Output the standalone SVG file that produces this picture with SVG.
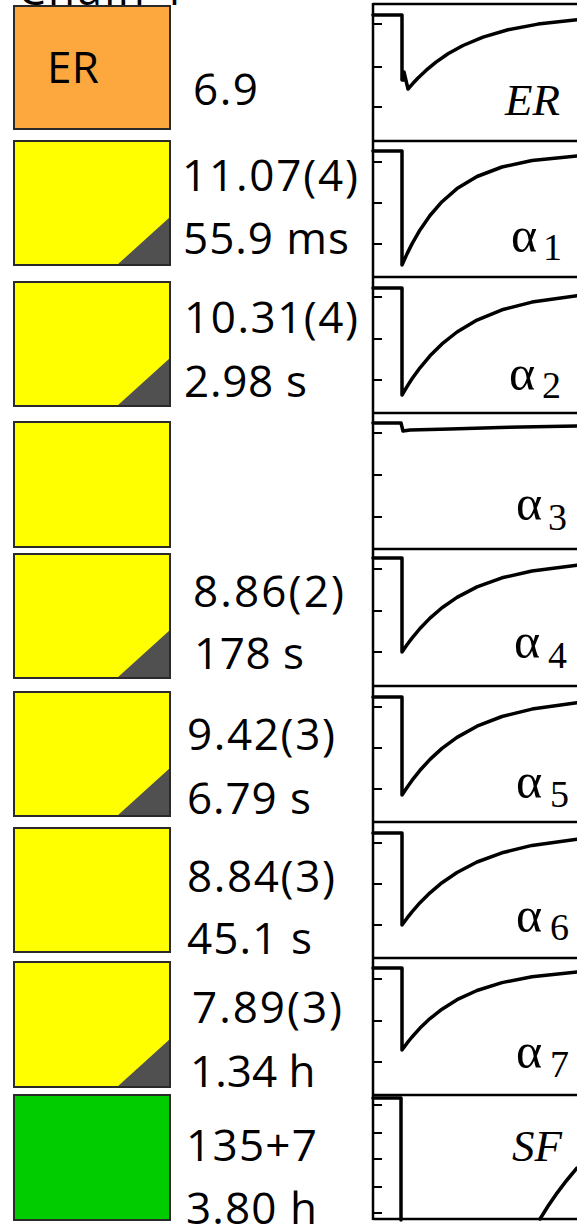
<svg xmlns="http://www.w3.org/2000/svg" width="577" height="1225" viewBox="0 0 577 1225">
<style>
.box{stroke:#2a2a2a;stroke-width:2}
.er{fill:#FCA83F}
.y{fill:#FFFF00}
.g{fill:#00CC00}
.tri{fill:#505050}
.t{font-family:"Open Sans","Liberation Sans",sans-serif;font-size:44px;fill:#000}
.frame{stroke:#000;stroke-width:2.5;fill:none}
.tick{stroke:#000;stroke-width:2;fill:none}
.trace{stroke:#000;stroke-width:3.5;fill:none;stroke-linejoin:round;stroke-linecap:round}
.lab{font-family:"Liberation Serif","Times New Roman",serif;fill:#000}
.it{font-style:italic;font-size:45px}
.al{font-size:50px}
.sub{font-size:38px}
</style>
<rect width="577" height="1225" fill="#fff"/>
<text class="t" x="18" y="5" textLength="168">Chain 1</text>

<g id="row-ER">
<rect class="box er" x="14" y="6" width="156" height="123"/>
<text class="t" x="47" y="83" textLength="52">ER</text>
<text class="t" x="193" y="105" textLength="65">6.9</text>
</g>
<g id="row-a1">
<rect class="box y" x="14" y="141" width="156" height="124"/>
<polygon class="tri" points="117,265 170,217 170,265"/>
<rect x="14" y="141" width="156" height="124" fill="none" class="box"/>
<text class="t" x="182" y="191" textLength="176">11.07(4)</text>
<text class="t" x="183" y="254" textLength="166">55.9 ms</text>
</g>
<g id="row-a2">
<rect class="box y" x="14" y="282" width="156" height="124"/>
<polygon class="tri" points="117,406 170,358 170,406"/>
<rect x="14" y="282" width="156" height="124" fill="none" class="box"/>
<text class="t" x="184" y="333" textLength="174">10.31(4)</text>
<text class="t" x="184" y="397" textLength="123">2.98 s</text>
</g>
<g id="row-a3">
<rect class="box y" x="14" y="422" width="156" height="125"/>
</g>
<g id="row-a4">
<rect class="box y" x="14" y="554" width="156" height="124"/>
<polygon class="tri" points="117,678 170,630 170,678"/>
<rect x="14" y="554" width="156" height="124" fill="none" class="box"/>
<text class="t" x="193" y="607" textLength="151">8.86(2)</text>
<text class="t" x="194" y="669" textLength="110">178 s</text>
</g>
<g id="row-a5">
<rect class="box y" x="14" y="692" width="156" height="124"/>
<polygon class="tri" points="117,816 170,768 170,816"/>
<rect x="14" y="692" width="156" height="124" fill="none" class="box"/>
<text class="t" x="187" y="750" textLength="148">9.42(3)</text>
<text class="t" x="187" y="814" textLength="124">6.79 s</text>
</g>
<g id="row-a6">
<rect class="box y" x="14" y="828" width="156" height="124"/>
<text class="t" x="187" y="892" textLength="148">8.84(3)</text>
<text class="t" x="187" y="954" textLength="125">45.1 s</text>
</g>
<g id="row-a7">
<rect class="box y" x="14" y="962" width="156" height="125"/>
<polygon class="tri" points="117,1087 170,1039 170,1087"/>
<rect x="14" y="962" width="156" height="125" fill="none" class="box"/>
<text class="t" x="192" y="1023" textLength="150">7.89(3)</text>
<text class="t" x="190" y="1087">1.34 h</text>
</g>
<g id="row-SF">
<rect class="box g" x="14" y="1095" width="156" height="125"/>
<text class="t" x="186" y="1161" textLength="131">135+7</text>
<text class="t" x="186" y="1224" textLength="131">3.80 h</text>
</g>

<g id="plots">
<path class="frame" d="M373,4 H577 M373,141 H577 M373,277 H577 M373,413 H577 M373,549 H577 M373,686 H577 M373,822 H577 M373,958 H577 M373,1095 H577 M373,1219 H577 M373,3 V1220"/>
<path class="tick" d="M373,24h9 M373,67h9 M373,107h9 M373,162h9 M373,203h9 M373,244h9 M373,297h9 M373,339h9 M373,380h9 M373,433h9 M373,475h9 M373,517h9 M373,569h9 M373,611h9 M373,652h9 M373,707h9 M373,748h9 M373,789h9 M373,843h9 M373,884h9 M373,925h9 M373,979h9 M373,1021h9 M373,1062h9 M373,1105h9 M373,1133h9 M373,1159h9 M373,1187h9 M373,1213h9"/>

<g id="plot-ER">
<path class="trace" d="M373,15 H402 V80 H404 V72 L408,89 L413,83.3 L418,78 L426,70.4 L436,62.1 L448,53.8 L463,45.5 L483,37.1 L508,29.7 L538,24.1 L577,19.8"/>
<text class="lab it" x="505" y="115">ER</text>
</g>
<g id="plot-a1">
<path class="trace" d="M373,151 H402 V265 L407,253.9 L412,243.9 L420,229.9 L430,215.5 L442,201.7 L457,188.6 L477,176.5 L502,167 L532,160.5 L577,155.9"/>
<text class="lab al" x="511" y="252">α</text><text class="lab sub" x="543" y="260">1</text>
</g>
<g id="plot-a2">
<path class="trace" d="M373,288 H402 V395 L407,386.6 L412,378.8 L420,367.8 L430,355.8 L442,343.9 L457,332 L477,320.1 L502,309.8 L532,302.1 L577,295.7"/>
<text class="lab al" x="509" y="390">α</text><text class="lab sub" x="542" y="398">2</text>
</g>
<g id="plot-a3">
<path class="trace" d="M373,423 H401 L403,431 L410,430 L450,429 L500,427.5 L577,426"/>
<text class="lab al" x="516" y="520">α</text><text class="lab sub" x="548" y="530">3</text>
</g>
<g id="plot-a4">
<path class="trace" d="M373,558 H402 V652 L407,644.7 L412,638.1 L420,628.5 L430,618.1 L442,607.7 L457,597.4 L477,586.9 L502,577.8 L532,571 L577,565.2"/>
<text class="lab al" x="514" y="658">α</text><text class="lab sub" x="548" y="668">4</text>
</g>
<g id="plot-a5">
<path class="trace" d="M373,697 H402 V795 L407,787.5 L412,780.4 L420,770.3 L430,759.4 L442,748.4 L457,737.4 L477,726.2 L502,716.5 L532,709.1 L577,702.8"/>
<text class="lab al" x="516" y="798">α</text><text class="lab sub" x="550" y="807">5</text>
</g>
<g id="plot-a6">
<path class="trace" d="M373,833 H402 V925 L407,918.2 L412,911.8 L420,902.7 L430,892.8 L442,882.7 L457,872.5 L477,862 L502,852.8 L532,845.4 L577,839.2"/>
<text class="lab al" x="516" y="932">α</text><text class="lab sub" x="550" y="940">6</text>
</g>
<g id="plot-a7">
<path class="trace" d="M373,968 H402 V1050 L407,1043.2 L412,1037 L420,1028.1 L430,1018.6 L442,1009.2 L457,999.7 L477,990.5 L502,982.6 L532,976.7 L577,972"/>
<text class="lab al" x="516" y="1068">α</text><text class="lab sub" x="550" y="1077">7</text>
</g>
<g id="plot-SF">
<path class="trace" d="M373,1098 H401 V1220"/>
<path class="trace" d="M540,1219 Q556,1192 577,1168"/>
<text class="lab it" x="512" y="1161">SF</text>
</g>
</g>
</svg>
